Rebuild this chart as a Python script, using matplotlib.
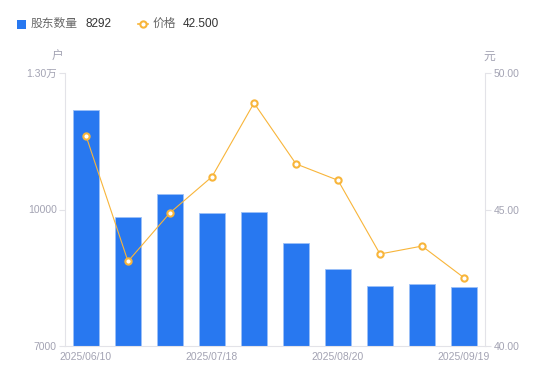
import matplotlib
matplotlib.use("Agg")
import matplotlib.pyplot as plt
from matplotlib.patches import Rectangle
from matplotlib.lines import Line2D

plt.rcParams['font.family'] = ['Liberation Sans', 'Noto Sans CJK SC', 'DejaVu Sans']

dates = ["2025/06/10", "2025/06/20", "2025/06/30", "2025/07/18", "2025/07/31",
         "2025/08/10", "2025/08/20", "2025/08/31", "2025/09/10", "2025/09/19"]
holders = [12190, 9840, 10335, 9915, 9940, 9270, 8690, 8320, 8360, 8292]
prices = [47.70, 43.10, 44.88, 46.20, 48.90, 46.67, 46.07, 43.37, 43.66, 42.50]
left_ticks = [7000, 10000, 13000]
left_tick_labels = ["7000", "10000", "1.30万"]
right_ticks = [40, 45, 50]
right_tick_labels = ["40.00", "45.00", "50.00"]
shown_idx = [0, 3, 6, 9]

W, H = 550, 381
fig = plt.figure(figsize=(W / 100, H / 100), dpi=100)
ax = fig.add_axes([65 / W, (H - 346) / H, (485 - 65) / W, (346 - 73) / H])
ax2 = ax.twinx()

bar_color = "#2878f0"
line_color = "#f8b53a"
axis_color = "#e3e3e8"
label_color = "#a3a3b3"

x = list(range(len(dates)))
ax.bar(x, holders, width=0.6, color=bar_color, edgecolor="#9cc0f8", linewidth=0.6, zorder=2)
ax.set_xlim(-0.5, len(dates) - 0.5)
ax.set_ylim(7000, 13000)
ax.set_yticks(left_ticks)
ax.set_yticklabels(left_tick_labels)
ax.set_xticks([x[i] for i in shown_idx])
ax.set_xticklabels([dates[i] for i in shown_idx])

ax2.plot(x, prices, color=line_color, linewidth=0.8, marker="o", markersize=4.5,
         markerfacecolor="white", markeredgecolor=line_color, markeredgewidth=1.5, zorder=3)
ax2.set_ylim(40, 50)
ax2.set_yticks(right_ticks)
ax2.set_yticklabels(right_tick_labels)

for a in (ax, ax2):
    for s in a.spines.values():
        s.set_visible(False)
ax.spines['left'].set_visible(True)
ax.spines['left'].set_color(axis_color)
ax.spines['bottom'].set_visible(True)
ax.spines['bottom'].set_color(axis_color)
ax2.spines['right'].set_visible(True)
ax2.spines['right'].set_color(axis_color)

ax.tick_params(axis='y', length=4, color=axis_color, labelcolor=label_color, labelsize=7.5, pad=2)
ax.tick_params(axis='x', length=0, labelcolor=label_color, labelsize=7.5, pad=4)
ax2.tick_params(axis='y', length=4, color=axis_color, labelcolor=label_color, labelsize=7.5, pad=2)

# unit labels
fig.text(58 / W, 1 - 57 / H, "户", ha="center", va="center", fontsize=8.5, color=label_color)
fig.text(489 / W, 1 - 57 / H, "元", ha="center", va="center", fontsize=8.5, color=label_color)

# legend
ly = 1 - 24 / H
fig.patches.append(Rectangle((17 / W, 1 - 28.5 / H), 9 / W, 9 / H, transform=fig.transFigure,
                             facecolor=bar_color, edgecolor="none"))
fig.text(31 / W, ly, "股东数量", ha="left", va="center", fontsize=8.5, color="#666666")
fig.text(85 / W, ly, f"{holders[-1]}", ha="left", va="center", fontsize=8.5, color="#333333")
fig.lines.append(Line2D([138 / W, 148 / W], [ly, ly], transform=fig.transFigure,
                        color=line_color, linewidth=1.2))
fig.lines.append(Line2D([143 / W], [ly], transform=fig.transFigure, linestyle="none",
                        marker="o", markersize=4.5, markerfacecolor="white",
                        markeredgecolor=line_color, markeredgewidth=1.5))
fig.text(153 / W, ly, "价格", ha="left", va="center", fontsize=8.5, color="#666666")
fig.text(183 / W, ly, f"{prices[-1]:.3f}", ha="left", va="center", fontsize=8.5, color="#333333")

fig.savefig("out.png", dpi=100)
